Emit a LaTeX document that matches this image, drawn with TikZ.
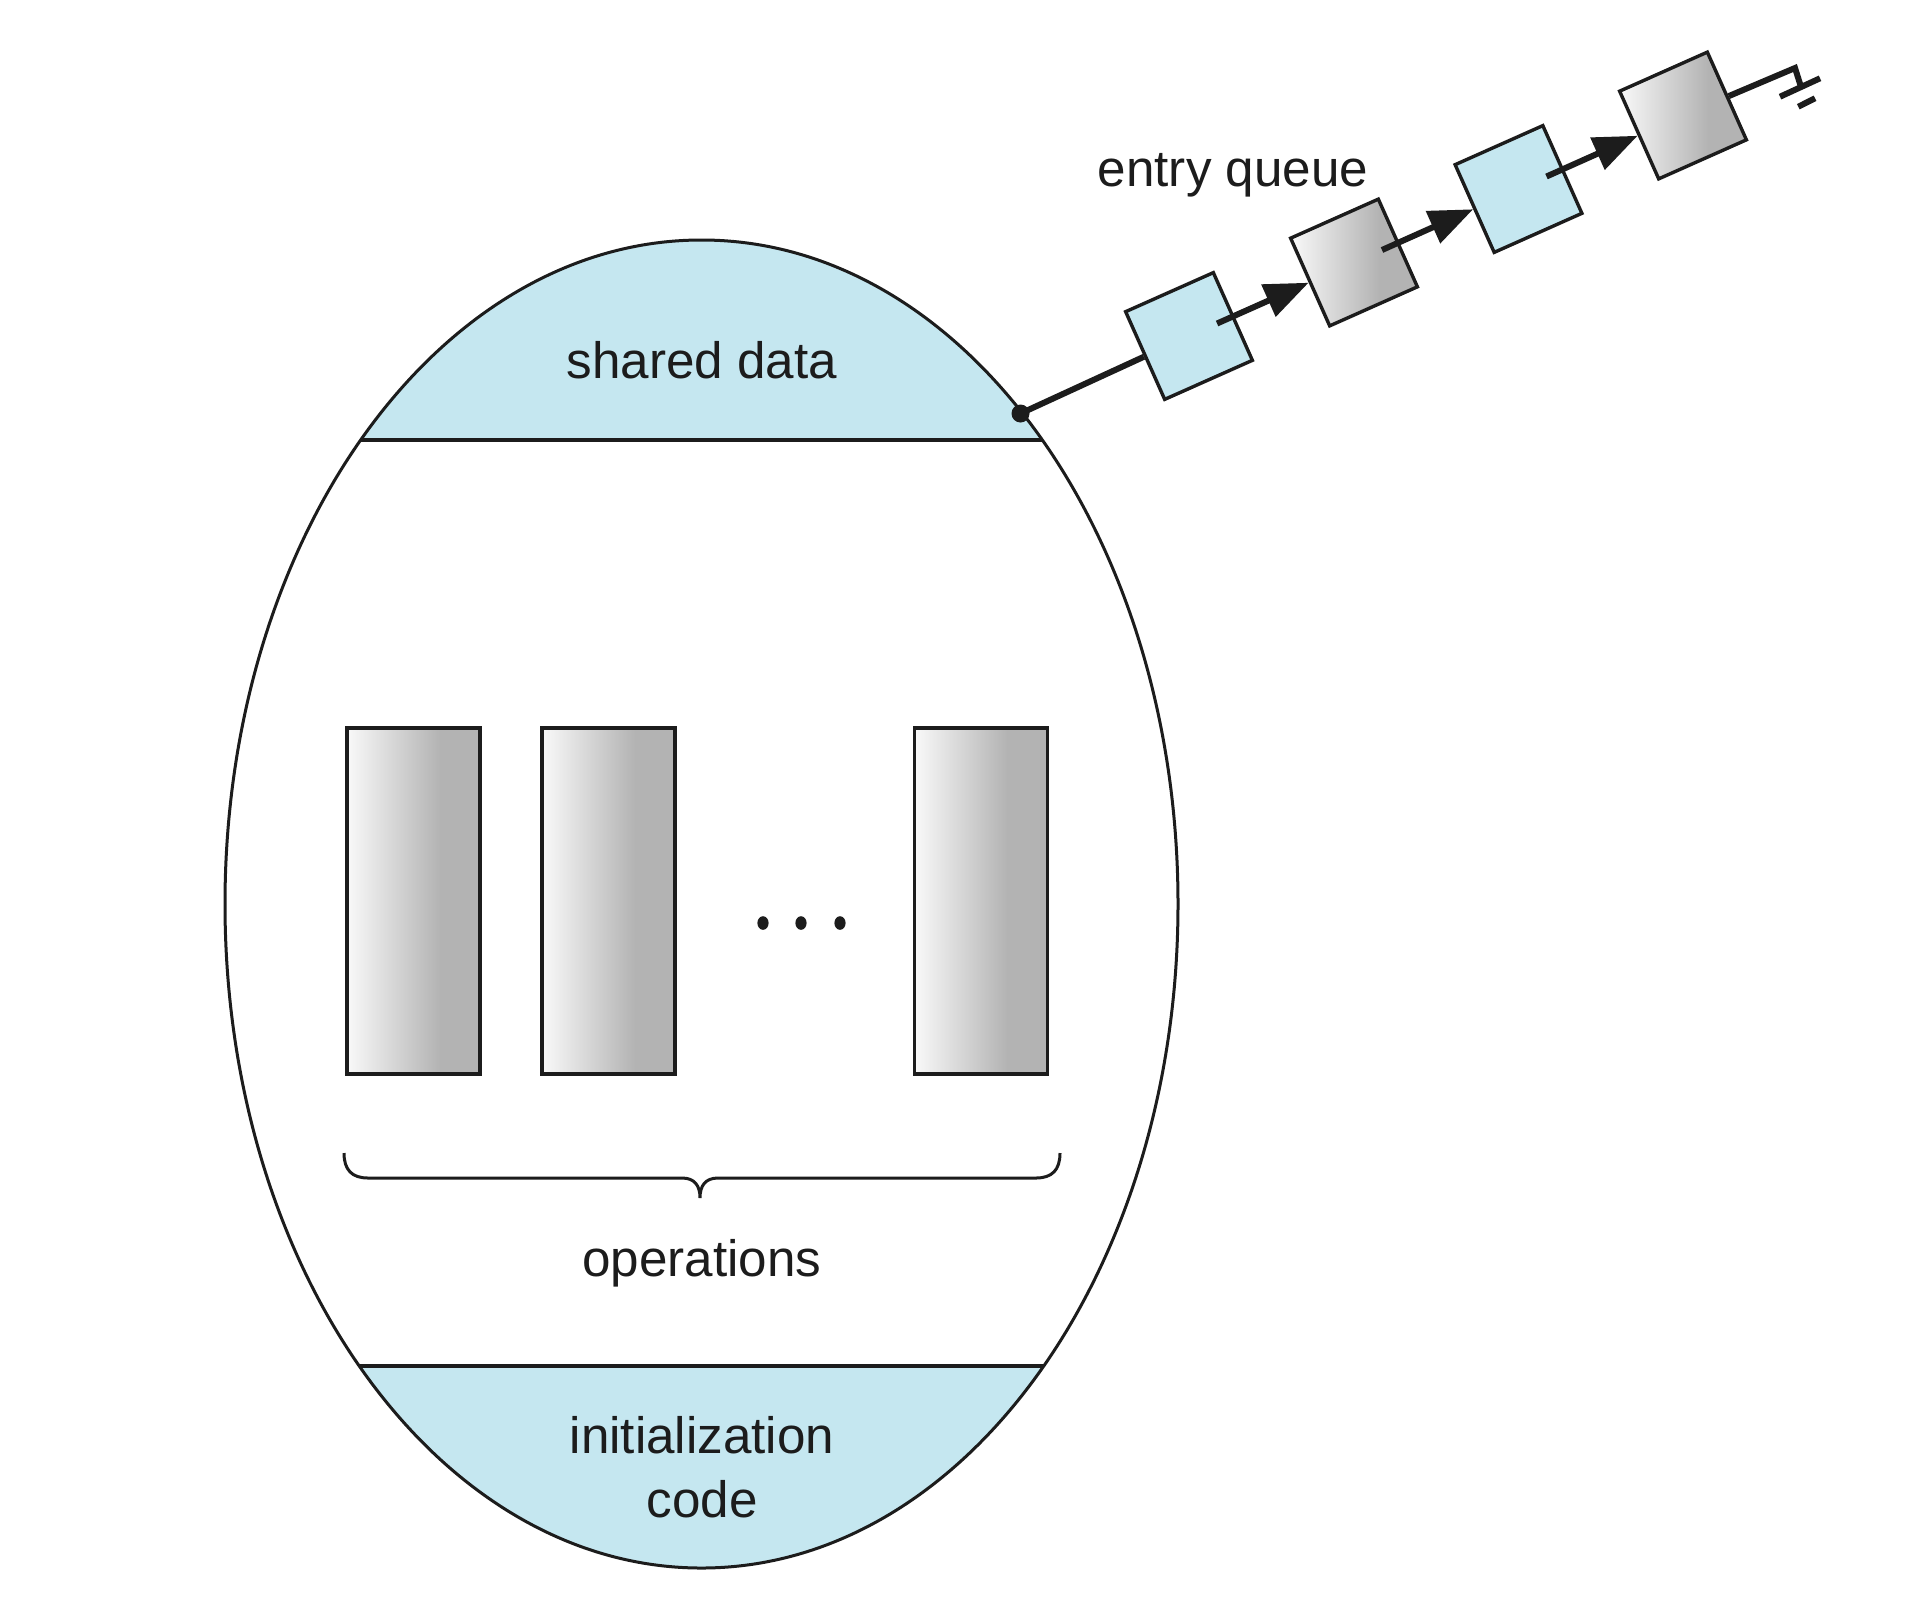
\documentclass[tikz,border=0pt]{standalone}
\usepackage{fontspec}
\setmainfont{Liberation Sans}
\usetikzlibrary{arrows.meta,calc}
\definecolor{bandblue}{RGB}{197,231,240}
\definecolor{gL}{RGB}{249,249,249}
\definecolor{gR}{RGB}{179,179,179}
\definecolor{ink}{RGB}{28,28,28}
\pgfdeclarehorizontalshading{grayshade}{100bp}{color(0bp)=(gL); color(25bp)=(gL); color(60bp)=(gR); color(100bp)=(gR)}
\tikzset{
  lbl/.style={font=\fontsize{25.6pt}{32pt}\selectfont, text=ink, inner sep=0pt},
  opbox/.style={draw=ink, line width=1.7pt, shade, shading=grayshade, minimum width=66.5pt, minimum height=173pt, inner sep=0pt},
  qb/.style={draw=ink, line width=1.7pt, rotate=24, minimum size=48pt, inner sep=0pt},
  qblue/.style={qb, fill=bandblue},
  qgray/.style={qb, shade, shading=grayshade},
  conn/.style={draw=ink, line width=3pt},
  arr/.style={conn, -{Triangle[length=22pt,width=17pt]}},
  outline/.style={draw=ink, line width=1.5pt},
  bandline/.style={draw=ink, line width=1.7pt}
}
\begin{document}
\begin{tikzpicture}[x=0.5pt,y=-0.5pt]
\useasboundingbox[fill=white] (0,0) rectangle (1930,1612);
% monitor body
\begin{scope}
  \clip (701.5,904) ellipse [x radius=238.25pt, y radius=332pt];
  \fill[bandblue] (0,0) rectangle (1930,440);
  \fill[bandblue] (0,1366) rectangle (1930,1612);
  \draw[bandline] (0,440) -- (1930,440);
  \draw[bandline] (0,1366) -- (1930,1366);
\end{scope}
\draw[outline] (701.5,904) ellipse [x radius=238.25pt, y radius=332pt];
% labels
\node[lbl, anchor=base] (shared) at (702,378) {shared data};
\node[lbl, anchor=base] (ops) at (702,1276) {operations};
\node[lbl, anchor=base, align=center] (init) at (702,1517) {initialization\\code};
\node[lbl, anchor=base] (entry) at (1233,186) {entry queue};
% operations
\node[opbox] (op1) at (413.5,901) {};
\node[opbox] (op2) at (608.5,901) {};
\node[opbox] (op3) at (981,901) {};
\foreach \x in {763,801,840} \fill[ink] (\x,923) ellipse [x radius=2.8pt, y radius=3.4pt];
% brace
\draw[ink, line width=1.5pt] (344,1153) .. controls (344,1170) and (352,1178) .. (368,1178)
  -- (682,1178) .. controls (695,1178) and (700,1186) .. (700,1198)
  .. controls (700,1186) and (705,1178) .. (718,1178)
  -- (1036,1178) .. controls (1052,1178) and (1060,1170) .. (1060,1153);
% entry queue
\node[circle, fill=ink, inner sep=0pt, minimum size=9pt] (dot) at (1020.5,413.5) {};
\node[qblue] (q1) at (1189,336) {};
\node[qgray] (q2) at (1354,262.5) {};
\node[qblue] (q3) at (1518.5,189) {};
\node[qgray] (q4) at (1683,115.5) {};
\coordinate (gnd) at (1795,68);
\draw[conn] (dot.center) -- (q1);
\draw[arr] ($(q1.center)!0.17!(q2.center)$) -- (q2);
\draw[arr] ($(q2.center)!0.17!(q3.center)$) -- (q3);
\draw[arr] ($(q3.center)!0.17!(q4.center)$) -- (q4);
\draw[conn] (q4) -- (gnd) -- ($(gnd)+(6,19)$);
\draw[conn] ($(gnd)+(-15,28.7)$) -- ($(gnd)+(25,10.3)$);
\draw[conn] ($(gnd)+(3.3,38.7)$) -- ($(gnd)+(20,30.3)$);
\end{tikzpicture}
\end{document}
